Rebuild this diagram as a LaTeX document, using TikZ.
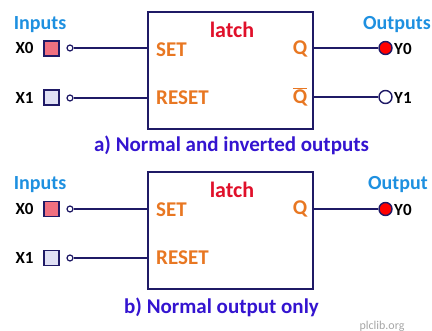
\documentclass[tikz,border=0pt]{standalone}
\usepackage{fontspec}
\setmainfont{Carlito}
\definecolor{navy}{HTML}{1F1A66}
\definecolor{hdblue}{HTML}{1E90E0}
\definecolor{pinkred}{HTML}{F07080}
\definecolor{lilac}{HTML}{E0E0F4}
\definecolor{pinorange}{HTML}{E87722}
\definecolor{latchred}{HTML}{E0102A}
\definecolor{capblue}{HTML}{3414D0}
\begin{document}
\begin{tikzpicture}[x=1pt,y=-1pt,
  wire/.style={draw=navy,line width=1.4pt},
  hdr/.style={text=hdblue,font=\fontsize{20}{22}\selectfont\bfseries,inner sep=0pt},
  io/.style={text=black,font=\fontsize{17}{19}\selectfont\bfseries,inner sep=0pt},
  sqbox/.style={draw=navy,line width=1.2pt,minimum size=15pt,inner sep=0pt},
  pin/.style={draw=navy,line width=1.2pt,circle,minimum size=6pt,inner sep=0pt,fill=white},
  outdot/.style={draw=navy,line width=1.4pt,circle,minimum size=13pt,inner sep=0pt},
  latchbox/.style={draw=navy,line width=1.4pt,minimum width=165pt,minimum height=117pt,inner sep=0pt},
  pinlbl/.style={text=pinorange,font=\fontsize{21}{23}\selectfont\bfseries,inner sep=0pt},
  title/.style={text=latchred,font=\fontsize{22}{24}\selectfont\bfseries,inner sep=0pt},
  caption/.style={text=capblue,font=\fontsize{21}{23}\selectfont\bfseries,inner sep=0pt},
  wm/.style={text=black!35,font=\fontsize{12}{14}\selectfont,inner sep=0pt}]
\useasboundingbox (0,0) rectangle (432,331);
% ---------- a) ----------
\node[latchbox] (boxa) at (230.5,70.5) {};
\node[hdr] (ina) at (40,25) {Inputs};
\node[io] (x0a) at (24.5,48) {X0};
\node[sqbox,fill=pinkred] (s0a) at (51.5,48.5) {};
\node[pin] (c0a) at (70,48) {};
\node[io] (x1a) at (24.5,98) {X1};
\node[sqbox,fill=lilac] (s1a) at (51.5,97.5) {};
\node[pin] (c1a) at (70,98) {};
\draw[wire] (c0a.east) -- (c0a.east -| boxa.west);
\draw[wire] (c1a.east) -- (c1a.east -| boxa.west);
\node[title] (la) at (232,30) {latch};
\node[pinlbl,anchor=west] (seta) at (156,50) {SET};
\node[pinlbl,anchor=west] (reseta) at (156,98) {RESET};
\node[pinlbl] (qa) at (300,49) {Q};
\node[pinlbl] (qba) at (300,97) {$\overline{\hbox{Q}}$};
\node[outdot,fill=red] (o0a) at (385.5,48) {};
\node[outdot,fill=white] (o1a) at (385.5,97) {};
\draw[wire] (o0a.west -| boxa.east) -- (o0a.west);
\draw[wire] (o1a.west -| boxa.east) -- (o1a.west);
\node[io,anchor=west] (y0a) at (394,49) {Y0};
\node[io,anchor=west] (y1a) at (394,98) {Y1};
\node[hdr] (outa) at (397,25) {Outputs};
\node[caption] (capa) at (231.5,145) {a) Normal and inverted outputs};
% ---------- b) ----------
\node[latchbox] (boxb) at (230.5,230.5) {};
\node[hdr] (inb) at (40,185) {Inputs};
\node[io] (x0b) at (24.5,209) {X0};
\node[sqbox,fill=pinkred] (s0b) at (51.5,209) {};
\node[pin] (c0b) at (70,209) {};
\node[io] (x1b) at (24.5,258) {X1};
\node[sqbox,fill=lilac] (s1b) at (51.5,258) {};
\node[pin] (c1b) at (70,258) {};
\draw[wire] (c0b.east) -- (c0b.east -| boxb.west);
\draw[wire] (c1b.east) -- (c1b.east -| boxb.west);
\node[title] (lb) at (232,190) {latch};
\node[pinlbl,anchor=west] (setb) at (156,210) {SET};
\node[pinlbl,anchor=west] (resetb) at (156,258) {RESET};
\node[pinlbl] (qb) at (300,209) {Q};
\node[outdot,fill=red] (o0b) at (385.5,209) {};
\draw[wire] (o0b.west -| boxb.east) -- (o0b.west);
\node[io,anchor=west] (y0b) at (394,210) {Y0};
\node[hdr] (outb) at (398,185) {Output};
\node[caption] (capb) at (221.5,307) {b) Normal output only};
\node[wm] (wmk) at (382,326) {plclib.org};
\end{tikzpicture}
\end{document}
